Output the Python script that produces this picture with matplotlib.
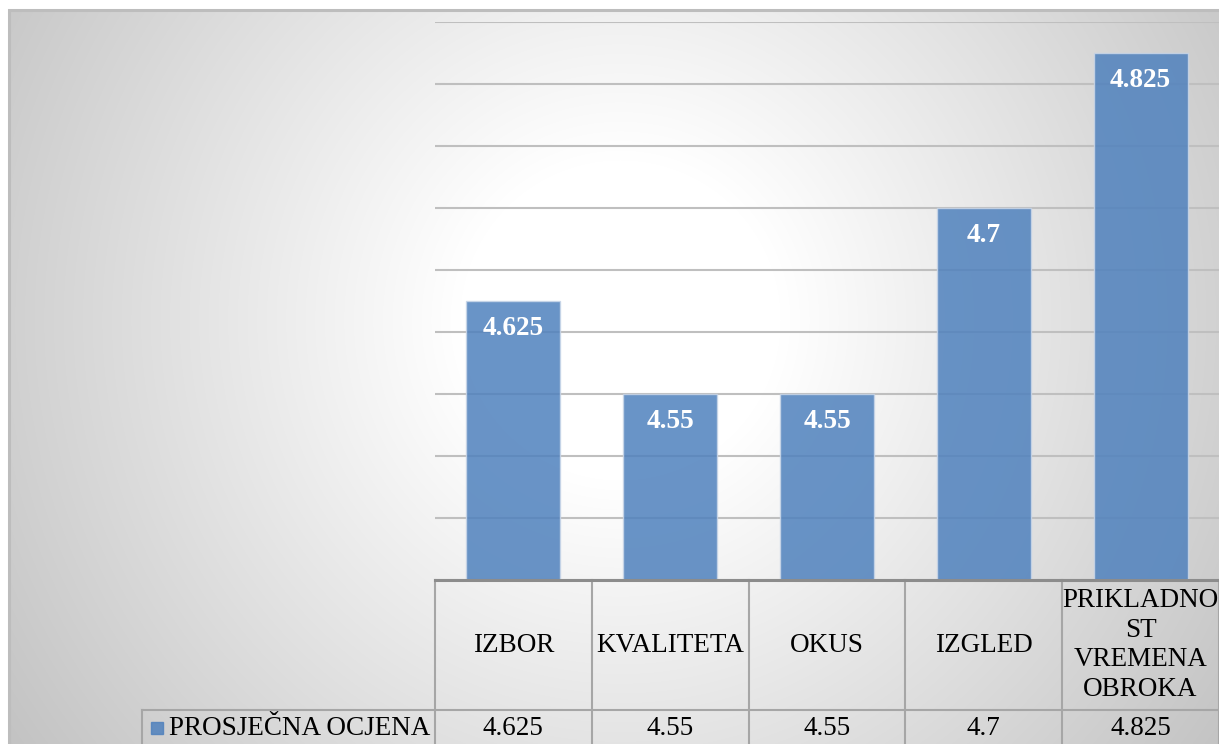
import numpy as np
import matplotlib
matplotlib.use("Agg")
import matplotlib.pyplot as plt
from matplotlib.transforms import blended_transform_factory

categories = ["IZBOR", "KVALITETA", "OKUS", "IZGLED", "PRIKLADNO\nST\nVREMENA\nOBROKA"]
values = [4.625, 4.55, 4.55, 4.7, 4.825]
series_name = "PROSJEČNA OCJENA"
y_ticks = [4.4, 4.45, 4.5, 4.55, 4.6, 4.65, 4.7, 4.75, 4.8, 4.85]

W, H = 1219, 744
bar_color = "#4F81BD"
grid_color = "#BFBFBF"
cell_color = "#A6A6A6"
fs = 19.5

plt.rcParams["font.family"] = ["Liberation Serif", "DejaVu Serif"]

fig = plt.figure(figsize=(W / 100, H / 100), dpi=100)
fig.patch.set_facecolor("white")

# radial gradient background of the chart area
bg = fig.add_axes([0, 0, 1, 1], zorder=-5)
yy, xx = np.mgrid[0:H, 0:W]
r = np.hypot(xx - 620, yy - 320)
t = np.clip((r - 160) / 600, 0, 1)
shade = 1.0 - t * (62 / 255)
img = np.dstack([shade, shade, shade])
img[:9, :, :] = 1.0
img[:, :8, :] = 1.0
bg.imshow(img, extent=[0, W, H, 0], aspect="auto", interpolation="bilinear")
bg.plot([8, W], [9.5, 9.5], color="#BDBDBD", lw=2.2, solid_capstyle="butt")
bg.plot([8.5, 8.5], [9, H], color="#BDBDBD", lw=2.2, solid_capstyle="butt")
bg.set_xlim(0, W)
bg.set_ylim(H, 0)
bg.axis("off")

# plot area in pixel positions
left, right, top, bottom = 435, 1219, 22, 580
ax = fig.add_axes([left / W, (H - bottom) / H, (right - left) / W, (bottom - top) / H])
ax.set_facecolor("none")
x = np.arange(len(values))
ax.bar(x, values, width=0.6, color=bar_color, alpha=0.85, edgecolor="#C9D6E8", linewidth=1.0, zorder=2)
ax.set_xlim(-0.5, len(values) - 0.5)
ax.set_ylim(y_ticks[0], y_ticks[-1])
ax.set_yticks(y_ticks)
ax.yaxis.grid(True, color=grid_color, lw=1.5, zorder=1)
ax.set_axisbelow(True)
ax.tick_params(left=False, labelleft=False, bottom=False, labelbottom=False)
for s in ["left", "right", "top"]:
    ax.spines[s].set_visible(False)
ax.spines["bottom"].set_color("#8C8C8C")
ax.spines["bottom"].set_linewidth(2.2)
ax.spines["bottom"].set_zorder(5)

for xi, v in zip(x, values):
    ax.annotate(f"{v:g}", (xi, v), xytext=(0, -20), textcoords="offset points",
                ha="center", va="center", color="white", fontsize=fs, fontweight="bold", zorder=4)

# data table below the plot
ph = bottom - top
pw = (right - left) / len(values)
row1 = -(710 - bottom) / ph
row2 = -(H + 5 - bottom) / ph
tr = blended_transform_factory(ax.transData, ax.transAxes)
legend_left = -0.5 - (left - 142) / pw
mid_val = (row1 + (-(H - bottom - 1) / ph)) / 2 - 0.003

for i in range(len(values) + 1):
    ax.plot([i - 0.5, i - 0.5], [0, row2], color=cell_color, lw=1.5, transform=tr, clip_on=False)
ax.plot([legend_left, len(values) - 0.5], [row1, row1], color=cell_color, lw=1.5, transform=tr, clip_on=False)
ax.plot([legend_left, legend_left], [row1, row2], color=cell_color, lw=1.5, transform=tr, clip_on=False)

for xi, cat, v in zip(x, categories, values):
    ax.text(xi, row1 / 2, cat, ha="center", va="center", fontsize=fs, transform=tr,
            linespacing=1.24, clip_on=False)
    ax.text(xi, mid_val, f"{v:g}", ha="center", va="center", fontsize=fs, transform=tr, clip_on=False)

ax.plot([legend_left + 15 / pw], [mid_val], marker="s", markersize=9, color=bar_color,
        alpha=0.85, transform=tr, clip_on=False, linestyle="none")
ax.text(legend_left + 27 / pw, mid_val, series_name, ha="left", va="center", fontsize=fs,
        transform=tr, clip_on=False)

fig.savefig("out.png", dpi=100)
